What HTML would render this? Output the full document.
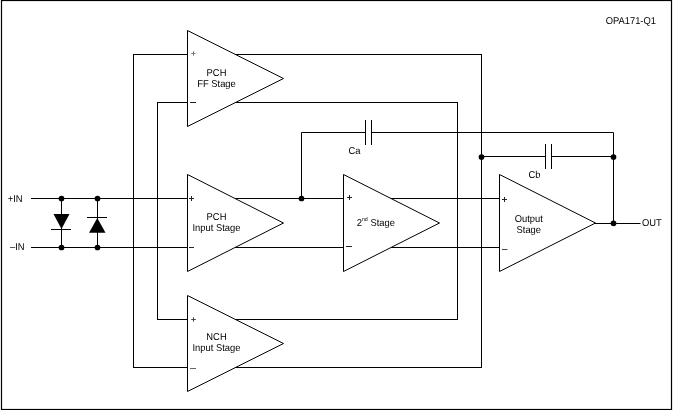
<!DOCTYPE html>
<html>
<head>
<meta charset="utf-8">
<style>
html,body{margin:0;padding:0;background:#fff;}
body{width:673px;height:410px;overflow:hidden;}
svg{display:block;filter:grayscale(1);}
text{font-family:"Liberation Sans",sans-serif;font-size:9.4px;fill:#000;text-rendering:geometricPrecision;}
</style>
</head>
<body>
<svg width="673" height="410" viewBox="0 0 673 410" xmlns="http://www.w3.org/2000/svg">
<rect x="0" y="0" width="673" height="410" fill="#fff"/>
<!-- border -->
<rect x="1.5" y="0.5" width="670" height="409" fill="none" stroke="#000" stroke-width="1.2"/>

<g fill="none" stroke="#000" stroke-width="1">
  <!-- input lines -->
  <path d="M31 198.5H499"/>
  <path d="M31 247.5H499"/>
  <!-- outer loop -->
  <rect x="133.5" y="54.5" width="348" height="313"/>
  <!-- inner loop -->
  <rect x="157.5" y="102.5" width="300" height="217"/>
  <!-- Ca -->
  <path d="M301.5 198.5V132.5H365.5M371.5 132.5H613.5V223.5"/>
  <path d="M365.5 120V145M371.5 120V145"/>
  <!-- Cb -->
  <path d="M481.5 156.5H545.5M551.5 156.5H613.5"/>
  <path d="M545.5 144V169M551.5 144V169"/>
  <!-- OUT -->
  <path d="M595 223.5H640.5"/>
  <!-- diode verticals -->
  <path d="M61.5 198.5V247.5M97.5 198.5V247.5"/>
  <!-- diode bars -->
  <path d="M51 229.5H71M87 217.5H107"/>
</g>
<!-- diode triangles -->
<path d="M53.5 214L69.5 214L61.5 229Z" fill="#000"/>
<path d="M89 232.8L105.5 232.8L97.3 218Z" fill="#000"/>

<!-- amplifiers -->
<g fill="#fff" stroke="#000" stroke-width="1">
  <path d="M187.5 30.5V126.5L283.5 78.5Z"/>
  <path d="M187.5 174.5V271.5L283.5 223Z"/>
  <path d="M187.5 295.5V391.5L283.5 343.5Z"/>
  <path d="M343.5 174.5V271.5L439.5 223Z"/>
  <path d="M499.5 174.5V271.5L595.5 223Z"/>
</g>

<!-- +/- signs -->
<g stroke="#222" stroke-width="1" fill="none">
  <path d="M191.2 53.5H195.5M193.5 51.3V55.7" stroke="#777"/>
  <path d="M190 102.5H196"/>
  <path d="M189 198.5H194M191.5 196V201"/>
  <path d="M189 247.5H194"/>
  <path d="M191.2 319.5H195.8M193.5 317.3V321.7" stroke="#444"/>
  <path d="M190 368.5H196" stroke="#666"/>
  <path d="M347 197.5H352M349.5 195V200"/>
  <path d="M346 246.5H352"/>
  <path d="M502 199.5H507M504.5 197V202"/>
  <path d="M502 249.5H507.5" stroke="#444"/>
</g>

<!-- dots -->
<g fill="#000">
  <circle cx="61.5" cy="198.5" r="2.85"/>
  <circle cx="97.5" cy="198.5" r="2.85"/>
  <circle cx="61.5" cy="247.5" r="2.85"/>
  <circle cx="97.5" cy="247.5" r="2.85"/>
  <circle cx="301.5" cy="198.5" r="2.85"/>
  <circle cx="481.5" cy="157" r="2.85"/>
  <circle cx="613.5" cy="157" r="2.85"/>
  <circle cx="613.5" cy="223.3" r="2.85"/>
</g>

<!-- labels -->
<text transform="translate(656 23.7) scale(1 1.06)" text-anchor="end">OPA171-Q1</text>
<text transform="translate(7.7 201.7) scale(1 1.06)">+IN</text>
<text transform="translate(10 249.6) scale(1 1.06)">&#8211;IN</text>
<text transform="translate(642 225.7) scale(1 1.06)">OUT</text>
<text transform="translate(348.5 154.2) scale(1 1.06)">Ca</text>
<text transform="translate(528.5 178.2) scale(1 1.06)">Cb</text>

<text transform="translate(216.5 75.8) scale(1 1.06)" text-anchor="middle">PCH</text>
<text transform="translate(216.5 86.8) scale(1 1.06)" text-anchor="middle">FF Stage</text>
<text transform="translate(216.5 220) scale(1 1.06)" text-anchor="middle">PCH</text>
<text transform="translate(216.5 231) scale(1 1.06)" text-anchor="middle">Input Stage</text>
<text transform="translate(216.5 340) scale(1 1.06)" text-anchor="middle">NCH</text>
<text transform="translate(216.5 351) scale(1 1.06)" text-anchor="middle">Input Stage</text>
<text transform="translate(356.7 225.6) scale(1 1.06)">2<tspan font-size="5.3" dy="-4.6">nd</tspan><tspan dy="4.6"> Stage</tspan></text>
<text transform="translate(528.8 221.7) scale(1 1.06)" text-anchor="middle">Output</text>
<text transform="translate(528.8 232.9) scale(1 1.06)" text-anchor="middle">Stage</text>
</svg>
</body>
</html>
